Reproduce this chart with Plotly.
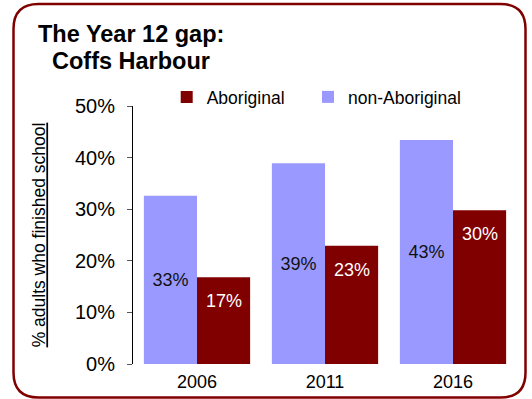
import plotly.graph_objects as go

# Share of adults who finished Year 12, Coffs Harbour census years
years = ["2006", "2011", "2016"]
non_aboriginal = [32.6, 38.9, 43.4]
aboriginal = [16.8, 22.9, 29.8]
y_ticks = [0, 10, 20, 30, 40, 50]
y_tick_labels = ["0%", "10%", "20%", "30%", "40%", "50%"]

BLUE = "#9999FF"
MAROON = "#800000"
W, H = 532, 399
M = dict(l=133, r=15, t=106, b=35)
BASE_FONT = "Liberation Sans, Arial, sans-serif"
BAR_GAP = 0.17

pw = W - M["l"] - M["r"]
ph = H - M["t"] - M["b"]


def px_x(x):
    return (x - M["l"]) / pw


def px_y(y):
    return (H - M["b"] - y) / ph


fig = go.Figure()
fig.add_trace(go.Bar(
    name="non-Aboriginal", x=years, y=non_aboriginal,
    marker=dict(color=BLUE, line=dict(width=0)),
    text=[f"{v:.0f}%" for v in non_aboriginal],
    textposition="inside", insidetextanchor="middle",
    textfont=dict(family=BASE_FONT, size=18, color="#111111"),
    hoverinfo="skip", legend="legend2",
))
fig.add_trace(go.Bar(
    name="Aboriginal", x=years, y=aboriginal,
    marker=dict(color=MAROON, line=dict(width=0)),
    hoverinfo="skip", legend="legend",
))

# value labels for the Aboriginal bars sit a little below each bar top;
# on a category axis a numeric x is the category's index
bar_px = pw / len(years) * (1 - BAR_GAP) / 2
for i, v in enumerate(aboriginal):
    fig.add_annotation(
        x=i, y=v, xref="x", yref="y", text=f"{v:.0f}%",
        showarrow=False, xshift=round(bar_px / 2), yshift=-24,
        xanchor="center", yanchor="middle",
        font=dict(family=BASE_FONT, size=18, color="white"),
    )

# chart heading, two centred lines
for line, cy in (("The Year 12 gap:", 34.5), ("Coffs Harbour", 61.5)):
    fig.add_annotation(
        x=px_x(131), y=px_y(cy), xref="paper", yref="paper",
        text=f"<b>{line}</b>", showarrow=False,
        xanchor="center", yanchor="middle",
        font=dict(family=BASE_FONT, size=23.5, color="black"),
    )

# rounded frame around the whole chart
x0, x1, y0, y1, r = 13.5, 525.5, 4, 397.5, 25
pts = [
    ("M", x0 + r, y0), ("L", x1 - r, y0), ("Q", x1, y0, x1, y0 + r),
    ("L", x1, y1 - r), ("Q", x1, y1, x1 - r, y1), ("L", x0 + r, y1),
    ("Q", x0, y1, x0, y1 - r), ("L", x0, y0 + r), ("Q", x0, y0, x0 + r, y0),
]
path = ""
for p in pts:
    cmd, coords = p[0], p[1:]
    xy = []
    for i in range(0, len(coords), 2):
        xy.append(f"{px_x(coords[i]):.5f},{px_y(coords[i + 1]):.5f}")
    path += cmd + " ".join(xy) + " "
fig.add_shape(type="path", path=path + "Z", xref="paper", yref="paper",
              line=dict(color=MAROON, width=2.5), layer="above")

legend_style = dict(
    orientation="h", yanchor="middle", xanchor="left", y=px_y(97),
    font=dict(family=BASE_FONT, size=17.5, color="black"),
    bgcolor="rgba(0,0,0,0)", borderwidth=0,
)

fig.update_layout(
    width=W, height=H, margin=M,
    paper_bgcolor="white", plot_bgcolor="white",
    barmode="group", bargap=BAR_GAP, bargroupgap=0,
    font=dict(family=BASE_FONT, size=18, color="black"),
    showlegend=True,
    legend=dict(legend_style, x=px_x(166.7)),
    legend2=dict(legend_style, x=px_x(308)),
    xaxis=dict(
        type="category", categoryorder="array", categoryarray=years,
        range=[-0.5, len(years) - 0.5], autorange=False, automargin=False,
        showline=False, ticks="", showgrid=False, zeroline=False,
        tickfont=dict(size=18), ticklabelstandoff=5,
    ),
    yaxis=dict(
        range=[0, 50], tickvals=y_ticks, ticktext=y_tick_labels,
        showline=True, linecolor="black", linewidth=1,
        ticks="outside", ticklen=5, tickcolor="#555555",
        ticklabelstandoff=8,
        showgrid=False, zeroline=False,
        tickfont=dict(size=20),
        title=dict(
            text="% adults who finished school",
            font=dict(family=BASE_FONT, size=17.5, lineposition="under"),
            standoff=24,
        ),
    ),
)

fig.write_html("out.html")
